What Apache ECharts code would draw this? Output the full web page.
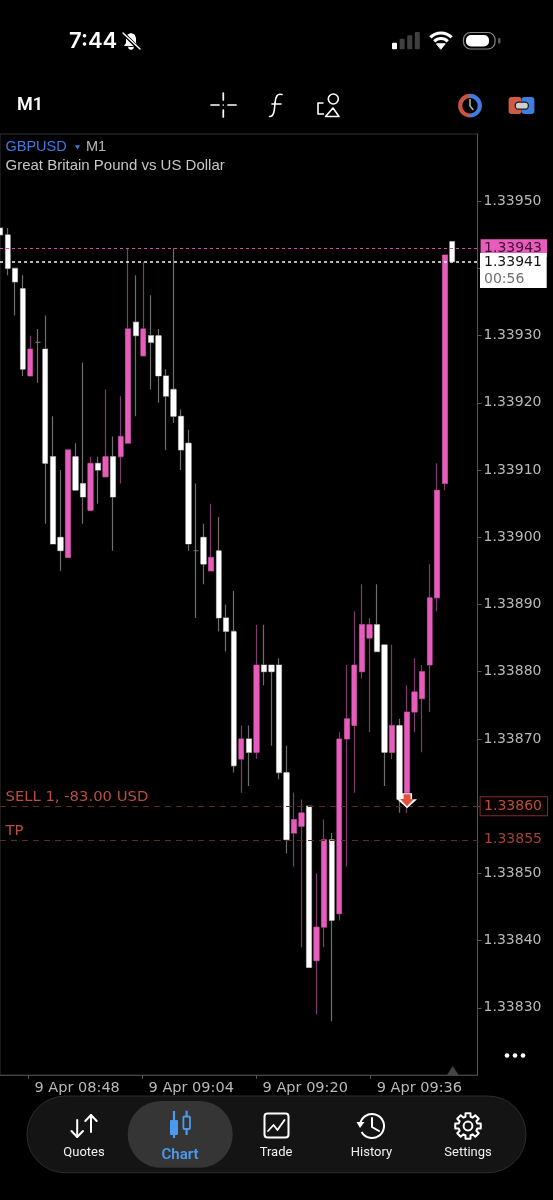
<!DOCTYPE html>
<html>
<head>
<meta charset="utf-8">
<script src="https://cdn.jsdelivr.net/npm/echarts@6/dist/echarts.min.js"></script>
<style>html,body{margin:0;padding:0;background:#000}#c{width:553px;height:1200px}</style>
</head>
<body>
<div id="c"></div>
<script>
// ---- Data ----
const opens  = [1.33946,1.33945,1.33940,1.33937,1.33924,1.33929,1.33928,1.33912,1.33900,1.33897,1.33912,1.33908,1.33904,1.33911,1.33909,1.33912,1.33912,1.33914,1.33932,1.33927,1.33930,1.33930,1.33924,1.33922,1.33918,1.33914,1.33898,1.33900,1.33895,1.33898,1.33888,1.33886,1.33867,1.33870,1.33868,1.33881,1.33881,1.33881,1.33865,1.33856,1.33857,1.33860,1.33837,1.33842,1.33855,1.33844,1.33870,1.33872,1.33880,1.33885,1.33887,1.33884,1.33868,1.33872,1.33862,1.33874,1.33876,1.33881,1.33891,1.33908,1.33944];
const closes = [1.33945,1.33940,1.33938,1.33925,1.33928,1.33929,1.33911,1.33899,1.33898,1.33913,1.33907,1.33906,1.33911,1.33910,1.33912,1.33906,1.33915,1.33931,1.33930,1.33931,1.33929,1.33924,1.33921,1.33918,1.33913,1.33899,1.33898,1.33896,1.33897,1.33888,1.33886,1.33866,1.33870,1.33868,1.33881,1.33880,1.33880,1.33865,1.33855,1.33858,1.33859,1.33836,1.33842,1.33855,1.33843,1.33870,1.33873,1.33881,1.33887,1.33887,1.33883,1.33868,1.33872,1.33861,1.33874,1.33877,1.33880,1.33891,1.33907,1.33942,1.33941];
const lows   = [1.33945,1.33939,1.33933,1.33924,1.33924,1.33923,1.33902,1.33899,1.33895,1.33897,1.33907,1.33902,1.33904,1.33905,1.33909,1.33898,1.33908,1.33914,1.33918,1.33927,1.33922,1.33920,1.33913,1.33917,1.33910,1.33898,1.33888,1.33893,1.33895,1.33886,1.33883,1.33865,1.33862,1.33863,1.33867,1.33878,1.33869,1.33864,1.33853,1.33851,1.33839,1.33836,1.33829,1.33839,1.33828,1.33843,1.33851,1.33862,1.33879,1.33871,1.33883,1.33863,1.33867,1.33859,1.33859,1.33871,1.33868,1.33874,1.33889,1.33907,1.33941];
const highs  = [1.33946,1.33946,1.33940,1.33939,1.33930,1.33931,1.33933,1.33918,1.33910,1.33913,1.33914,1.33926,1.33912,1.33912,1.33922,1.33915,1.33921,1.33943,1.33939,1.33941,1.33936,1.33931,1.33925,1.33943,1.33919,1.33916,1.33908,1.33902,1.33905,1.33903,1.33890,1.33892,1.33872,1.33872,1.33887,1.33887,1.33881,1.33882,1.33869,1.33862,1.33861,1.33860,1.33850,1.33858,1.33856,1.33871,1.33881,1.33889,1.33893,1.33888,1.33893,1.33884,1.33884,1.33873,1.33878,1.33882,1.33881,1.33896,1.33911,1.33942,1.33944];
const yTickLabels = [1.33950,1.33930,1.33920,1.33910,1.33900,1.33890,1.33880,1.33870,1.33850,1.33840,1.33830];
const xTickLabels = ['9 Apr 08:48','9 Apr 09:04','9 Apr 09:20','9 Apr 09:36'];
const xTickSlots = [4,20,36,52];
const askPrice = 1.33943, bidPrice = 1.33941, sellPrice = 1.33860, tpPrice = 1.33855;
const sellLabel = 'SELL 1, -83.00 USD', tpLabel = 'TP', countdown = '00:56';
const tabs = ['Quotes','Chart','Trade','History','Settings'];
// ------------------------------------

const PINK='#e85cbb', WHITE='#ffffff', PINK_DIM='#7d3b6e', WHITE_DIM='#6e6e6e', RED='#b84e42', BLUE='#4a9bf0';
const AXIS_FONT='"DejaVu Sans"';
const N_BANDS=64, BAND=7.536;
const bandLabels=Array.from({length:N_BANDS},(_,i)=>String(i));
const slotLabels=Array.from({length:68},(_,i)=>{const k=xTickSlots.indexOf(i);return k>=0?xTickLabels[k]:'m'+i;});
const yMin=1.3382,yMax=1.3396;

const wickData=opens.map((o,i)=>[o,closes[i],lows[i],highs[i]]);
const bodyData=opens.map((o,i)=>[o,closes[i],Math.min(o,closes[i]),Math.max(o,closes[i])]);

function priceTag(value,bg,border,color){
  return {
    yAxis:value,
    label:{show:true,position:'end',distance:3,formatter:value.toFixed(5),fontFamily:AXIS_FONT,fontSize:14,
      color:color,backgroundColor:bg,borderColor:border,borderWidth:border?1:0,padding:[2,3,2,3.5],width:60,height:14,lineHeight:14,align:'left'}
  };
}
function sideLabel(value,text){
  return {
    yAxis:value,lineStyle:{color:'rgba(0,0,0,0)',width:0},
    label:{show:true,position:'insideStartTop',distance:[5.5,1.5],formatter:text,fontFamily:AXIS_FONT,fontSize:14.8,color:RED}
  };
}

const g=[];
const Z=50;
const st=(o)=>Object.assign({fill:null,stroke:'#fff',lineWidth:1.7,lineCap:'round',lineJoin:'round'},o||{});
function line(x1,y1,x2,y2,o){g.push({type:'line',z:Z,silent:true,shape:{x1,y1,x2,y2},style:st(o)});}
function poly(points,o){g.push({type:'polyline',z:Z,silent:true,shape:{points},style:st(o)});}
function pgon(points,o){g.push({type:'polygon',z:Z,silent:true,shape:{points},style:st(o)});}
function rect(x,y,width,height,r,o,z){g.push({type:'rect',z:z||Z,silent:true,shape:{x,y,width,height,r},style:st(o)});}
function circ(cx,cy,r,o){g.push({type:'circle',z:Z,silent:true,shape:{cx,cy,r},style:st(o)});}
function arc(cx,cy,r,a,b,o){g.push({type:'arc',z:Z,silent:true,shape:{cx,cy,r,startAngle:a*Math.PI/180,endAngle:b*Math.PI/180,clockwise:true},style:st(o)});}
function curve(x1,y1,cpx1,cpy1,cpx2,cpy2,x2,y2,o){g.push({type:'bezierCurve',z:Z,silent:true,shape:{x1,y1,cpx1,cpy1,cpx2,cpy2,x2,y2},style:st(o)});}
function text(x,y,t,font,fill,align,z){g.push({type:'text',z:z||Z,silent:true,x,y,style:{text:t,font,fill,textAlign:align||'left',textVerticalAlign:'middle'}});}

// status bar
text(69,41,'7:44','600 22px Inter','#fff');
pgon([[131,33],[127.5,34.5],[126,38],[126,43],[124,46],[138,46],[136,43],[136,38],[134.5,34.5]],{fill:'#fff',stroke:null});
arc(131,47,2.2,0,180,{fill:'#fff',stroke:'#fff',lineWidth:1.2});
line(122,32,140,50,{stroke:'#000',lineWidth:3.5});
line(123,33,140,49,{stroke:'#fff',lineWidth:1.4});
rect(392,42.7,5,6.6,1,{fill:'#fff',stroke:null});
rect(399.6,38.7,5,10.6,1,{fill:'#3f3f3f',stroke:null});
rect(407.2,35.3,5,14,1,{fill:'#3f3f3f',stroke:null});
rect(414.8,32,5,17.3,1,{fill:'#3f3f3f',stroke:null});
arc(441,48,15,-135,-45,{lineWidth:3.2,lineCap:'butt'});
arc(441,48,9.5,-135,-45,{lineWidth:3.2,lineCap:'butt'});
pgon([[436.8,43.8],[445.2,43.8],[441,49]],{fill:'#fff',stroke:'#fff',lineWidth:1});
rect(463.5,32.5,31.5,16.5,7,{stroke:'#8a8a8a',lineWidth:1.2});
rect(466,35,23,11.5,5,{fill:'#fff',stroke:null});
rect(498,38,2.5,5.5,1,{fill:'#5a5a5a',stroke:null});

// top bar
text(17,105,'M1','600 18px Roboto','#fff');
line(211,105,219,105);line(228,105,236,105);line(223.3,93,223.3,100);line(223.3,110,223.3,117);circ(223.3,105,.8,{fill:'#fff',stroke:null});
curve(282,94.5,277,93,275.5,97,275,103,{lineWidth:1.6});
curve(275,103,274.5,110,274,117,269.5,116.5,{lineWidth:1.6});
line(272,104,281,104,{lineWidth:1.6});
circ(333.3,99,5,{lineWidth:1.6});
pgon([[333,108],[339,116.5],[325.5,116.5]],{lineWidth:1.6});
poly([[323.5,103],[318,103],[318,114],[324,114]],{lineWidth:1.6,lineCap:'butt'});
arc(470,105.7,9.8,90,270,{stroke:'#c9543f',lineWidth:4.2,lineCap:'butt'});
arc(470,105.7,9.8,-90,90,{stroke:'#3f7de0',lineWidth:4.2,lineCap:'butt'});
poly([[470,99.5],[470,106],[473,109.5]],{stroke:'#b5b5b5',lineWidth:1.5});
rect(508.6,97,13,17,3,{fill:'#cf5a45',stroke:null});
rect(521.6,97,12.8,17,3,{fill:'#3f7de0',stroke:null});
rect(515.2,102.2,13.2,7,3.5,{fill:'#cfcfcf',stroke:'#1c1c1c',lineWidth:1.3});

// chart title
text(5.5,147,'GBPUSD','14.5px "Liberation Sans"','#3f7ae0');
pgon([[75,145.2],[80,145.2],[77.5,149.4]],{fill:'#3f7ae0',stroke:null});
text(86,147,'M1','14.5px "Liberation Sans"','#b9b9b9');
text(5.5,165.5,'Great Britain Pound vs US Dollar','15px "Liberation Sans"','#c6c6c6');

// live price box (sits on top of the pink ask tag)
rect(480,253,66.7,35,0,{fill:'#fff',stroke:null},60);
text(484,262.5,bidPrice.toFixed(5),'14px '+AXIS_FONT,'#151515','left',61);
text(484,279,countdown,'14px '+AXIS_FONT,'#6f6f6f','left',61);

// right-bottom chart furniture
pgon([[447,1075],[458.6,1075],[452.8,1066]],{fill:'#444',stroke:null});
circ(507,1055.5,2.3,{fill:'#fff',stroke:null});circ(515,1055.5,2.3,{fill:'#fff',stroke:null});circ(523,1055.5,2.3,{fill:'#fff',stroke:null});

// tab bar
rect(27,1096,499,76.7,38,{fill:'#141414',stroke:'#2c2c2c',lineWidth:1});
rect(127.7,1101,105,66.7,33,{fill:'#353535',stroke:null});
poly([[77.2,1120],[77.2,1137]],{lineWidth:2});poly([[71.5,1131],[77.2,1137],[83,1131]],{lineWidth:2});
poly([[91,1115],[91,1132]],{lineWidth:2});poly([[85.3,1121],[91,1115],[96.7,1121]],{lineWidth:2});
text(84,1152.7,tabs[0],'13px Roboto','#f0f0f0','center');
line(174,1111,174,1138,{stroke:BLUE,lineWidth:2.2,lineCap:'butt'});
rect(170,1120,8,15,1,{fill:BLUE,stroke:null});
line(186.6,1110.7,186.6,1135,{stroke:BLUE,lineWidth:2.2,lineCap:'butt'});
rect(183.4,1116.5,6.6,12.5,1,{fill:'#353535',stroke:BLUE,lineWidth:1.8});
text(180,1155,tabs[1],'600 15px Roboto',BLUE,'center');
rect(264.5,1113.5,24,24,3,{lineWidth:2});
poly([[268,1131],[273.5,1125],[277.5,1130],[284.5,1120]],{lineWidth:1.8});
text(276,1152.7,tabs[2],'13px Roboto','#f0f0f0','center');
arc(372,1126,12,-170,150,{lineWidth:2,lineCap:'butt'});
pgon([[356.5,1122],[364.5,1122],[360,1128]],{fill:'#fff',stroke:null});
poly([[372,1118],[372,1127],[379,1131]],{lineWidth:2});
text(371.5,1152.7,tabs[3],'13px Roboto','#f0f0f0','center');
(function(){const pts=[];const cx=468,cy=1126;for(let k=0;k<8;k++){const a=k*45-90;const s=11;[[a-s,13],[a+s,13],[a+22.5-7,9.6],[a+22.5+7,9.6]].forEach(p=>{const r=p[0]*Math.PI/180;pts.push([cx+p[1]*Math.cos(r),cy+p[1]*Math.sin(r)]);});}
pgon(pts,{lineWidth:2});circ(cx,cy,4.4,{lineWidth:2});})();
text(468,1152.7,tabs[4],'13px Roboto','#f0f0f0','center');

const chart=echarts.init(document.getElementById('c'),null,{renderer:'canvas'});
chart.setOption({
  animation:false,
  backgroundColor:'#000',
  grid:[
    {left:BAND*-0.5+0.13,width:N_BANDS*BAND,top:134,height:941,show:false,outerBoundsMode:'none',containLabel:false},
    {left:0,width:477.6,top:134,height:941,show:true,borderColor:'#333',borderWidth:1,backgroundColor:'transparent',outerBoundsMode:'none',containLabel:false}
  ],
  xAxis:[
    {gridIndex:0,type:'category',data:bandLabels,show:false},
    {gridIndex:1,type:'category',data:slotLabels,boundaryGap:false,
      axisLine:{show:true,lineStyle:{color:'#444'}},
      axisTick:{show:true,length:4,interval:(i)=>xTickSlots.indexOf(i)>=0,lineStyle:{color:'#555'}},
      splitLine:{show:false},
      axisLabel:{interval:(i)=>xTickSlots.indexOf(i)>=0,align:'left',margin:6,padding:[0,0,0,6],fontFamily:AXIS_FONT,fontSize:14.5,color:'#b8b8b8',hideOverlap:false}}
  ],
  yAxis:[
    {gridIndex:0,type:'value',min:yMin,max:yMax,interval:0.0001,show:false},
    {gridIndex:1,type:'value',position:'right',min:yMin,max:yMax,interval:0.0001,
      axisLine:{show:true,lineStyle:{color:'#555'}},
      axisTick:{show:true,length:4,lineStyle:{color:'#555'}},
      splitLine:{show:false},
      axisLabel:{margin:6,padding:[2,0,0,0],fontFamily:AXIS_FONT,fontSize:14,color:'#b8b8b8',
        showMinLabel:false,showMaxLabel:false,
        formatter:(v)=>yTickLabels.some(t=>Math.abs(t-v)<1e-7)?v.toFixed(5):''}}
  ],
  series:[
    {name:'wicks',type:'candlestick',xAxisIndex:0,yAxisIndex:0,data:wickData,barWidth:5,silent:true,z:2,
      itemStyle:{color:PINK_DIM,color0:WHITE_DIM,borderColor:PINK_DIM,borderColor0:WHITE_DIM,borderColorDoji:WHITE_DIM,borderWidth:1.2}},
    {name:'bodies',type:'candlestick',xAxisIndex:0,yAxisIndex:0,data:bodyData,barWidth:5.8,silent:true,z:3,
      itemStyle:{color:PINK,color0:WHITE,borderColor:PINK,borderColor0:WHITE,borderColorDoji:'rgba(0,0,0,0)',borderWidth:0},
      markPoint:{silent:true,animation:false,z:8,data:[
        {coord:[54,sellPrice],symbol:'path://M5 0 H15 V6 H20 L10 15 L0 6 H5 Z',symbolSize:[20,15],symbolOffset:[0,-5.5],itemStyle:{color:'#fff'},label:{show:false}},
        {coord:[54,sellPrice],symbol:'path://M5 0 H15 V6 H20 L10 15 L0 6 H5 Z',symbolSize:[14,12],symbolOffset:[0,-6],itemStyle:{color:'#e0503c'},label:{show:false}}
      ]}},
    {name:'levels',type:'line',xAxisIndex:1,yAxisIndex:1,data:[],z:5,silent:true,
      markLine:{silent:true,animation:false,symbol:'none',precision:5,data:[
        Object.assign(priceTag(sellPrice,'#070302','#7a3026','#bd4c3e'),{lineStyle:{color:'#5e2a22',type:[6,5],width:1}}),
        Object.assign(priceTag(tpPrice,'transparent',null,'#a2443a'),{lineStyle:{color:'#5e2a22',type:[6,5],width:1}}),
        sideLabel(sellPrice,sellLabel),
        sideLabel(tpPrice,tpLabel),
        Object.assign(priceTag(askPrice,PINK,null,'#3b1030'),{lineStyle:{color:'#c8559f',type:[3,3],width:1}}),
        {yAxis:bidPrice,label:{show:false},lineStyle:{color:'#f2f2f2',type:[3,3],width:1.6}}
      ]}}
  ],
  graphic:{elements:g}
});
</script>
</body>
</html>
